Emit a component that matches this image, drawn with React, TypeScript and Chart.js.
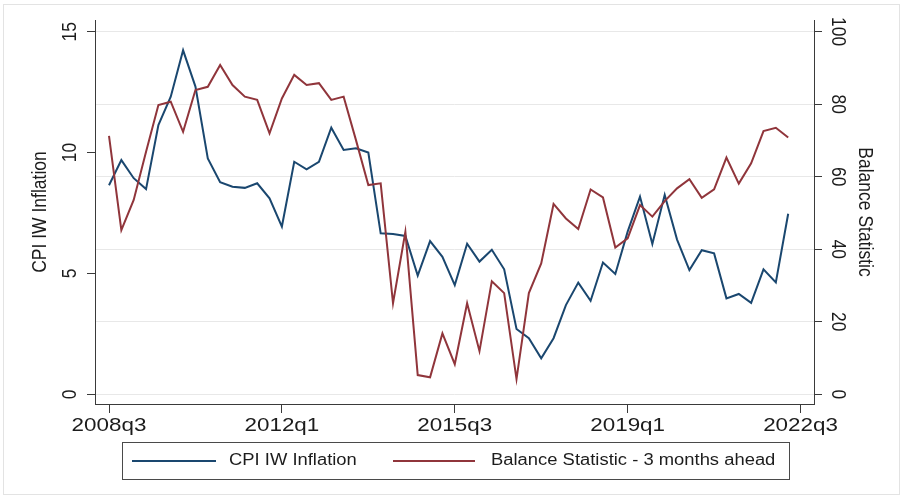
import React, { useEffect, useRef } from "react";
import { Chart, registerables } from "chart.js";

Chart.register(...registerables);

const quarters = [
  "2008q3", "2008q4",
  "2009q1", "2009q2", "2009q3", "2009q4",
  "2010q1", "2010q2", "2010q3", "2010q4",
  "2011q1", "2011q2", "2011q3", "2011q4",
  "2012q1", "2012q2", "2012q3", "2012q4",
  "2013q1", "2013q2", "2013q3", "2013q4",
  "2014q1", "2014q2", "2014q3", "2014q4",
  "2015q1", "2015q2", "2015q3", "2015q4",
  "2016q1", "2016q2", "2016q3", "2016q4",
  "2017q1", "2017q2", "2017q3", "2017q4",
  "2018q1", "2018q2", "2018q3", "2018q4",
  "2019q1", "2019q2", "2019q3", "2019q4",
  "2020q1", "2020q2", "2020q3", "2020q4",
  "2021q1", "2021q2", "2021q3", "2021q4",
  "2022q1", "2022q2",
];

const cpiInflation = [
  8.65, 9.69, 8.94, 8.49, 11.14, 12.31, 14.23, 12.73, 9.76, 8.77,
  8.59, 8.54, 8.73, 8.11, 6.94, 9.62, 9.31, 9.62, 11.03, 10.11,
  10.18, 10.0, 6.66, 6.63, 6.55, 4.91, 6.34, 5.69, 4.52, 6.23,
  5.49, 5.98, 5.17, 2.7, 2.32, 1.49, 2.32, 3.69, 4.62, 3.87,
  5.45, 4.98, 6.73, 8.18, 6.22, 8.25, 6.4, 5.14, 5.96, 5.83,
  3.97, 4.15, 3.78, 5.17, 4.63, 7.47,
];

const balanceStatistic = [
  71.3, 45.3, 53.6, 66.9, 79.8, 80.7, 72.4, 83.9, 84.8, 90.8,
  85.3, 82.1, 81.2, 72.0, 81.6, 88.1, 85.3, 85.8, 81.2, 82.1,
  70.1, 57.7, 58.2, 25.1, 44.8, 5.3, 4.7, 16.8, 8.3, 25.1,
  11.9, 31.2, 27.9, 4.2, 27.9, 36.1, 52.5, 48.5, 45.6, 56.5,
  54.3, 40.5, 43.0, 52.2, 49.0, 53.3, 56.8, 59.3, 54.2, 56.5,
  65.3, 58.1, 63.7, 72.6, 73.5, 70.8,
];

const xTickLabels = ["2008q3", "2012q1", "2015q3", "2019q1", "2022q3"];
const leftTicks = [0, 5, 10, 15];
const rightTicks = [0, 20, 40, 60, 80, 100];

const seriesNames = ["CPI IW Inflation", "Balance Statistic - 3 months ahead"];
const leftTitle = "CPI IW Inflation";
const rightTitle = "Balance Statistic";

const BLUE = "#1a476f";
const RED = "#90353b";
const AXIS = "#3a3a3a";
const TEXT = "#1c1c1c";
const GRID = "#e8e8e8";
const FONT = '"Liberation Sans", Arial, Helvetica, sans-serif';
const SX = 1.18;

const quarterIndex = (q: string) => {
  const y = parseInt(q.slice(0, 4), 10);
  const n = parseInt(q.slice(5), 10);
  return (y - 2008) * 4 + (n - 3);
};

function drawText(
  ctx: CanvasRenderingContext2D,
  text: string,
  x: number,
  y: number,
  size: number,
  rot: number,
  align: CanvasTextAlign = "center"
) {
  ctx.save();
  ctx.translate(x, y);
  ctx.scale(SX, 1);
  ctx.rotate(rot);
  ctx.font = `${size}px ${FONT}`;
  ctx.fillStyle = TEXT;
  ctx.textAlign = align;
  ctx.textBaseline = "middle";
  ctx.fillText(text, 0, 0);
  ctx.restore();
}

const textPlugin = {
  id: "stataText",
  beforeDraw(chart: any) {
    const ctx = chart.ctx as CanvasRenderingContext2D;
    ctx.save();
    ctx.fillStyle = "#ffffff";
    ctx.fillRect(0, 0, chart.width, chart.height);
    ctx.strokeStyle = "#e3e3e3";
    ctx.lineWidth = 1;
    ctx.strokeRect(3.5, 4.5, 896, 490);
    ctx.restore();
  },
  afterDraw(chart: any) {
    const ctx = chart.ctx as CanvasRenderingContext2D;
    const xs = chart.scales.x;
    const yl = chart.scales.yL;
    const yr = chart.scales.yR;
    const area = chart.chartArea;

    xTickLabels.forEach((l) => {
      drawText(ctx, l, xs.getPixelForValue(quarterIndex(l)), 426, 19, 0);
    });
    leftTicks.forEach((v) => {
      drawText(ctx, String(v), 70, yl.getPixelForValue(v), 17.5, -Math.PI / 2);
    });
    rightTicks.forEach((v) => {
      drawText(ctx, String(v), 838, yr.getPixelForValue(v), 17.5, Math.PI / 2);
    });
    const midY = (area.top + area.bottom) / 2;
    drawText(ctx, leftTitle, 40, midY, 17.5, -Math.PI / 2);
    drawText(ctx, rightTitle, 865, midY, 17.5, Math.PI / 2);

    // legend
    ctx.save();
    ctx.strokeStyle = "#4a4a4a";
    ctx.lineWidth = 1;
    ctx.strokeRect(122.5, 442.5, 667, 37);
    const ly = 461;
    ctx.lineWidth = 2;
    ctx.strokeStyle = BLUE;
    ctx.beginPath();
    ctx.moveTo(132, ly);
    ctx.lineTo(216, ly);
    ctx.stroke();
    ctx.strokeStyle = RED;
    ctx.beginPath();
    ctx.moveTo(393, ly);
    ctx.lineTo(475, ly);
    ctx.stroke();
    ctx.restore();
    drawText(ctx, seriesNames[0], 229, ly, 15.6, 0, "left");
    drawText(ctx, seriesNames[1], 491, ly, 15.6, 0, "left");
  },
};

export default function App() {
  const canvasRef = useRef<HTMLCanvasElement | null>(null);

  useEffect(() => {
    if (!canvasRef.current) return;
    const chart = new Chart(canvasRef.current, {
      type: "line",
      data: {
        datasets: [
          {
            label: seriesNames[0],
            data: cpiInflation.map((v, i) => ({ x: quarterIndex(quarters[i]), y: v })),
            borderColor: BLUE,
            backgroundColor: BLUE,
            borderWidth: 2,
            pointRadius: 0,
            tension: 0,
            yAxisID: "yL",
            order: 1,
          },
          {
            label: seriesNames[1],
            data: balanceStatistic.map((v, i) => ({ x: quarterIndex(quarters[i]), y: v })),
            borderColor: RED,
            backgroundColor: RED,
            borderWidth: 2,
            pointRadius: 0,
            tension: 0,
            yAxisID: "yR",
            order: 0,
          },
        ],
      },
      options: {
        animation: false,
        responsive: false,
        devicePixelRatio: 1,
        layout: { padding: { top: 20, left: 0, right: 0, bottom: 0 } },
        plugins: {
          legend: { display: false },
          tooltip: { enabled: false },
        },
        scales: {
          x: {
            type: "linear",
            min: -1.134,
            max: 57.09,
            bounds: "data",
            afterBuildTicks: (s: any) => {
              s.ticks = xTickLabels.map((l) => ({ value: quarterIndex(l) }));
            },
            afterFit: (s: any) => {
              s.height = 93;
            },
            ticks: { display: false },
            grid: {
              drawOnChartArea: false,
              drawTicks: true,
              tickLength: 9,
              tickColor: AXIS,
              lineWidth: 1,
            },
            border: { display: true, color: AXIS, width: 1 },
          },
          yL: {
            type: "linear",
            position: "left",
            min: -0.401,
            max: 15.484,
            bounds: "data",
            afterBuildTicks: (s: any) => {
              s.ticks = leftTicks.map((v) => ({ value: v }));
            },
            afterFit: (s: any) => {
              s.width = 95;
            },
            ticks: { display: false },
            grid: {
              drawOnChartArea: false,
              drawTicks: true,
              tickLength: 8,
              tickColor: AXIS,
            },
            border: { display: true, color: AXIS, width: 1 },
          },
          yR: {
            type: "linear",
            position: "right",
            min: -2.675,
            max: 103.23,
            bounds: "data",
            afterBuildTicks: (s: any) => {
              s.ticks = rightTicks.map((v) => ({ value: v }));
            },
            afterFit: (s: any) => {
              s.width = 90;
            },
            ticks: { display: false },
            grid: {
              drawOnChartArea: true,
              color: GRID,
              drawTicks: true,
              tickLength: 8,
              tickColor: AXIS,
            },
            border: { display: true, color: AXIS, width: 1 },
          },
        },
      },
      plugins: [textPlugin],
    } as any);
    return () => chart.destroy();
  }, []);

  return (
    <div style={{ position: "fixed", left: 0, top: 0, width: 904, height: 497, background: "#fff" }}>
      <canvas ref={canvasRef} width={904} height={497} style={{ display: "block" }} />
    </div>
  );
}
